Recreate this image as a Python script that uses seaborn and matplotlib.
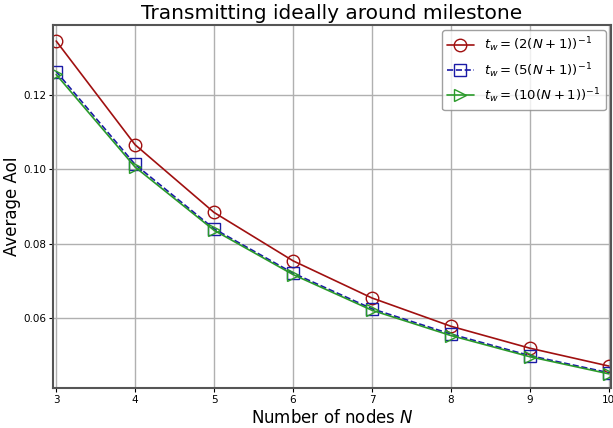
import numpy as np
import pandas as pd
import matplotlib
matplotlib.use("Agg")
import matplotlib.pyplot as plt
import seaborn as sns

N = [3, 4, 5, 6, 7, 8, 9, 10]
aoi_2 = [0.1345, 0.1066, 0.0884, 0.0754, 0.0654, 0.0578, 0.0519, 0.0471]
aoi_5 = [0.1263, 0.1013, 0.0840, 0.0721, 0.0625, 0.0557, 0.0499, 0.0453]
aoi_10 = [0.1255, 0.1006, 0.0836, 0.0717, 0.0621, 0.0553, 0.0496, 0.0450]
labels = [r"$t_w=(2(N+1))^{-1}$", r"$t_w=(5(N+1))^{-1}$", r"$t_w=(10(N+1))^{-1}$"]

sns.set_style("white")
plt.rcParams['font.family'] = ['DejaVu Sans']
plt.rcParams['text.color'] = 'black'
plt.rcParams['axes.labelcolor'] = 'black'
plt.rcParams['xtick.color'] = 'black'
plt.rcParams['ytick.color'] = 'black'

fig = plt.figure(figsize=(6.13, 4.28), dpi=100)
ax = fig.add_axes([0.0865, 0.0935, 0.9105, 0.848])

styles = [
    dict(color="#a01010", marker="o", linestyle="-"),
    dict(color="#1a1aa6", marker="s", linestyle="--"),
    dict(color="#2a9a2a", marker=">", linestyle="-"),
]
for vals, lab, st in zip([aoi_2, aoi_5, aoi_10], labels, styles):
    df = pd.DataFrame({"N": N, "AoI": vals})
    sns.lineplot(data=df, x="N", y="AoI", ax=ax, label=lab, color=st["color"],
                 marker=st["marker"], linestyle=st["linestyle"], markersize=9,
                 markerfacecolor="none", markeredgecolor=st["color"],
                 markeredgewidth=1.0, linewidth=1.2)

ax.set_xlim(2.96, 10.03)
ax.set_ylim(0.0412, 0.1388)
ax.set_xticks(N)
ax.set_yticks([0.06, 0.08, 0.10, 0.12])
ax.set_yticklabels(["0.06", "0.08", "0.10", "0.12"])
ax.tick_params(axis="both", labelsize=7.5, length=3, pad=2, direction="out",
               left=True, bottom=True, width=0.8)
ax.grid(True, color="#b0b0b0", linewidth=1.0)
for sp in ax.spines.values():
    sp.set_color("#555555")
    sp.set_linewidth(1.5)
ax.set_xlabel("Number of nodes $N$", fontsize=12, labelpad=3)
ax.set_ylabel("Average AoI", fontsize=12)
ax.yaxis.set_label_coords(-0.057, 0.5)
ax.set_title("Transmitting ideally around milestone", fontsize=14.5, pad=4)
leg = ax.legend(loc="upper right", fontsize=9.5, frameon=True, handlelength=2.0,
                borderaxespad=0.4, labelcolor="black")
leg.get_frame().set_edgecolor("#888888")

fig.savefig("out.png", dpi=100)
